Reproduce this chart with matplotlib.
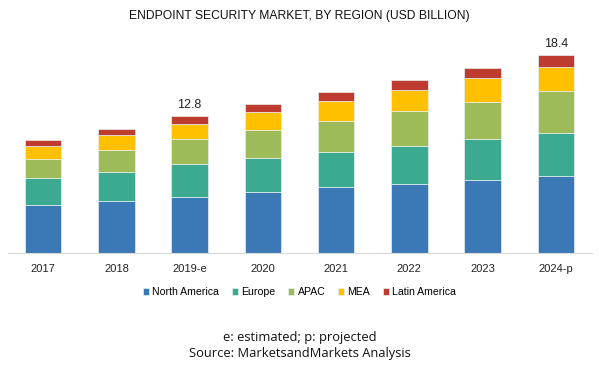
import numpy as np
import matplotlib.pyplot as plt

# Werte (USD Mrd.)
years = ['2017', '2018', '2019-e', '2020', '2021', '2022', '2023', '2024-p']
north_america = [4.52, 4.89, 5.26, 5.72, 6.13, 6.47, 6.84, 7.21]
europe = [2.51, 2.70, 3.01, 3.10, 3.31, 3.53, 3.81, 4.00]
apac = [1.77, 2.04, 2.32, 2.68, 2.88, 3.25, 3.44, 3.85]
mea = [1.15, 1.34, 1.42, 1.62, 1.83, 1.95, 2.20, 2.29]
latin_america = [0.56, 0.59, 0.79, 0.74, 0.84, 0.93, 0.93, 1.05]
labels = {2: '12.8', 7: '18.4'}

series = [north_america, europe, apac, mea, latin_america]
names = ['North America', 'Europe', 'APAC', 'MEA', 'Latin America']
colors = ['#3B78B6', '#3CAA91', '#9DBB59', '#FFC000', '#BE3B2F']

fig = plt.figure(figsize=(5.99, 3.68), dpi=100)
ax = fig.add_axes([8 / 599, 114.7 / 368, 583.7 / 599, 215.2 / 368])

x = np.arange(len(years))
bottom = np.zeros(len(years))
for vals, name, col in zip(series, names, colors):
    ax.bar(x, vals, 0.5, bottom=bottom, color=col, label=name,
           edgecolor='#E8F0F0', linewidth=0.5)
    bottom += np.array(vals)

for i, txt in labels.items():
    ax.text(x[i], bottom[i] + 0.45, txt, ha='center', va='bottom',
            fontsize=9, family='Liberation Sans', color='#222222')

ax.set_xlim(-0.48, 7.49)
ax.set_ylim(0, 20)
ax.set_xticks(x)
ax.set_xticklabels(years, fontsize=8, family='Liberation Sans', color='#222222')
ax.tick_params(axis='x', length=0, pad=8)
ax.set_yticks([])
for s in ['top', 'right', 'left']:
    ax.spines[s].set_visible(False)
ax.spines['bottom'].set_color('#D9D9D9')

fig.text(0.5, 1 - 16 / 368, 'ENDPOINT SECURITY MARKET, BY REGION (USD BILLION)',
         ha='center', va='center', fontsize=8.7, family='Liberation Sans', color='#111111')

leg = fig.legend(loc='center', bbox_to_anchor=(0.5, 1 - 292 / 368), ncol=5,
                 frameon=False, prop={'family': 'Liberation Sans', 'size': 7.6},
                 handlelength=0.6, handleheight=0.6, handletextpad=0.3, columnspacing=1.2)

fig.text(0.5, 1 - 337 / 368, 'e: estimated; p: projected', ha='center', va='center',
         fontsize=9.3, family='Open Sans', color='#111111')
fig.text(0.5, 1 - 354 / 368, 'Source: MarketsandMarkets Analysis', ha='center', va='center',
         fontsize=9.3, family='Open Sans', color='#111111')

fig.savefig('out.png', dpi=100)
